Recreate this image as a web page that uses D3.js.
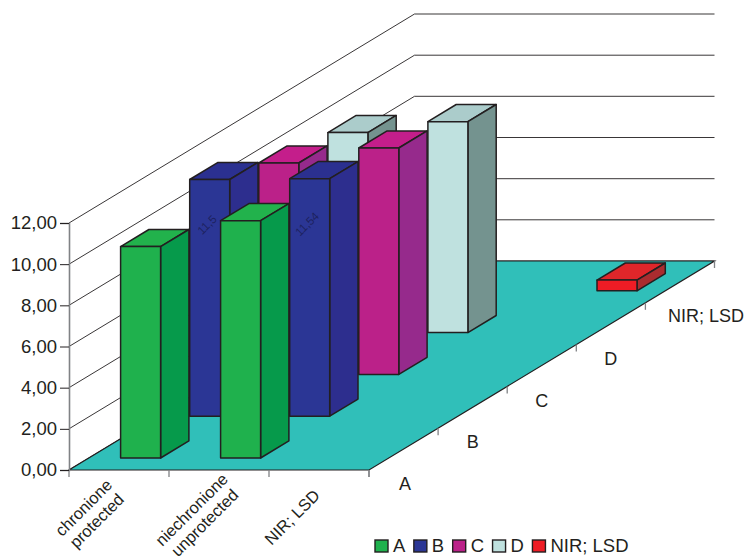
<!DOCTYPE html>
<html>
<head>
<meta charset="utf-8">
<script src="https://cdn.jsdelivr.net/npm/d3@7"></script>
<style>
  html, body { margin: 0; padding: 0; background: #fff; }
  svg { display: block; }
  text { font-family: "Liberation Sans", Arial, sans-serif; fill: #231f20; }
</style>
</head>
<body>
<svg id="chart" width="747" height="559"></svg>
<script>
// Chart data
const categories = ["chronione|protected", "niechronione|unprotected", "NIR; LSD"];
const seriesNames = ["A", "B", "C", "D", "NIR; LSD"];
const valuesA = [10.27, 11.53, null];
const valuesB = [11.5, 11.54, null];
const valuesC = [10.27, 11.0, null];
const valuesD = [9.72, 10.25, null];
const valuesNir = [null, null, 0.52];
const yTicks = [0, 2, 4, 6, 8, 10, 12];
const labelledSeries = ["B"];

// Face colours per series: front, side, top
const faceColours = {
  "A": ["#1fb14d", "#069a4b", "#22b24c"],
  "B": ["#2b3695", "#2d2e8e", "#2b3090"],
  "C": ["#bb2189", "#962a8c", "#c41e8b"],
  "D": ["#bfe1df", "#74938f", "#abcccb"],
  "NIR; LSD": ["#ee1c25", "#aa2c2f", "#e0262a"]
};
const seriesValues = [valuesA, valuesB, valuesC, valuesD, valuesNir];

// Oblique projection frame
const originX = 69, floorY = 470;
const floorWidth = 300;
const depthVec = [345.5, -209];
const inkColour = "#231f20", axisGrey = "#808285", floorColour = "#30bfb9";

const y = d3.scaleLinear().domain([0, 12]).range([floorY, 223]);
const x = d3.scaleBand().domain(categories).range([0, floorWidth])
  .paddingInner(0.6).paddingOuter(0.3).align(0.53);
const depth = d3.scaleBand().domain(seriesNames).range([0, 1])
  .paddingInner(0.59).paddingOuter(0.295).align(0.485);

// Project floor coordinate u (along categories), t (0..1 depth) and value v
const project = (u, t, v) => [
  originX + u + depthVec[0] * t,
  y(v) + depthVec[1] * t
];
const poly = pts => pts.map(p => p.map(n => n.toFixed(1)).join(",")).join(" ");

const svg = d3.select("#chart");

// Gridlines on the left and back walls
const walls = svg.append("g");
yTicks.forEach(v => {
  const a = project(0, 0, v), b = project(0, 1, v), c = project(floorWidth, 1, v);
  walls.append("polyline")
    .attr("points", poly([a, b, c]))
    .attr("fill", "none")
    .attr("stroke", inkColour)
    .attr("stroke-width", 0.9);
});

// Floor
svg.append("polygon")
  .attr("points", poly([project(0, 0, 0), project(floorWidth, 0, 0), project(floorWidth, 1, 0), project(0, 1, 0)]))
  .attr("fill", floorColour)
  .attr("stroke", inkColour)
  .attr("stroke-width", 1.2);

// Ticks under the front edge and along the right edge of the floor
const ticks = svg.append("g").attr("stroke", axisGrey).attr("stroke-width", 1.3);
d3.range(categories.length + 1).forEach(i => {
  const px = project(x.step() * i, 0, 0);
  ticks.append("line").attr("x1", px[0]).attr("x2", px[0]).attr("y1", px[1]).attr("y2", px[1] + 7);
});
d3.range(seriesNames.length + 1).forEach(i => {
  const px = project(floorWidth, i / seriesNames.length, 0);
  ticks.append("line").attr("x1", px[0]).attr("x2", px[0]).attr("y1", px[1]).attr("y2", px[1] + 7);
});

// Value axis
const yAxis = svg.append("g")
  .attr("transform", `translate(${originX},0)`)
  .call(d3.axisLeft(y).tickValues(yTicks).tickSize(9).tickPadding(3)
    .tickFormat(d => d3.format(".2f")(d).replace(".", ",")));
yAxis.select(".domain").attr("stroke", axisGrey).attr("stroke-width", 1.6);
yAxis.selectAll(".tick line").attr("stroke", inkColour).attr("stroke-width", 1);
yAxis.selectAll(".tick text").attr("font-size", 18.5).attr("fill", inkColour)
  .attr("font-family", '"Liberation Sans", Arial, sans-serif');

// Bars, back row first so nearer rows overlap them
const bars = svg.append("g")
  .attr("stroke", inkColour).attr("stroke-width", 1.5).attr("stroke-linejoin", "round");
const rows = seriesNames.map((name, i) => ({ name, values: seriesValues[i] })).reverse();
rows.forEach(row => {
  const t0 = depth(row.name), t1 = t0 + depth.bandwidth();
  const [front, side, top] = faceColours[row.name];
  categories.forEach((cat, c) => {
    const v = row.values[c];
    if (v == null) return;
    const u0 = x(cat), u1 = u0 + x.bandwidth();
    const g = bars.append("g");
    g.append("polygon").attr("fill", top)
      .attr("points", poly([project(u0, t0, v), project(u1, t0, v), project(u1, t1, v), project(u0, t1, v)]));
    g.append("polygon").attr("fill", side)
      .attr("points", poly([project(u1, t0, 0), project(u1, t1, 0), project(u1, t1, v), project(u1, t0, v)]));
    g.append("polygon").attr("fill", front)
      .attr("points", poly([project(u0, t0, 0), project(u1, t0, 0), project(u1, t0, v), project(u0, t0, v)]));
    if (labelledSeries.includes(row.name)) {
      const p = project((u0 + u1) / 2, t0, v);
      g.append("text")
        .attr("transform", `translate(${p[0] - 2},${p[1] + 46}) rotate(-45)`)
        .attr("text-anchor", "middle")
        .attr("dominant-baseline", "middle")
        .attr("font-size", 11.5)
        .attr("stroke", "none")
        .style("fill", "#1d2260")
        .text(String(v).replace(".", ","));
    }
  });
});

// Category labels, rotated, one or two lines
const labelNudge = [[-29, 0], [-21, 2], [-27, 3]];
const catLabels = svg.append("g");
categories.forEach((cat, c) => {
  const cx = originX + x.step() * (c + 0.5) + labelNudge[c][0];
  const cy = 514 + labelNudge[c][1];
  const lines = cat.split("|");
  const text = catLabels.append("text")
    .attr("transform", `translate(${cx},${cy}) rotate(-45)`)
    .attr("text-anchor", "middle")
    .attr("font-size", 16.5);
  lines.forEach((line, i) => {
    text.append("tspan")
      .attr("x", 0)
      .attr("y", (i - (lines.length - 1) / 2) * 18.5 + 6)
      .text(line);
  });
});

// Series labels along the right edge of the floor
seriesNames.forEach((name, i) => {
  const p = project(floorWidth, (i + 0.5) / seriesNames.length, 0);
  svg.append("text")
    .attr("x", name.length > 1 ? p[0] + 26 : p[0] + (i === 0 ? 1.5 : 0))
    .attr("y", name.length > 1 ? p[1] + 40 : p[1] + 41)
    .attr("text-anchor", "middle")
    .attr("font-size", 18)
    .text(name);
});

// Legend
let legendX = 375;
const legend = svg.append("g");
seriesNames.forEach(name => {
  legend.append("rect")
    .attr("x", legendX).attr("y", 540).attr("width", 13).attr("height", 12)
    .attr("fill", faceColours[name][0])
    .attr("stroke", inkColour).attr("stroke-width", 1.4);
  const label = legend.append("text")
    .attr("x", legendX + 18).attr("y", 552)
    .attr("font-size", 18.5)
    .text(name);
  legendX += 18 + label.node().getComputedTextLength() + 8.5;
});
</script>
</body>
</html>
